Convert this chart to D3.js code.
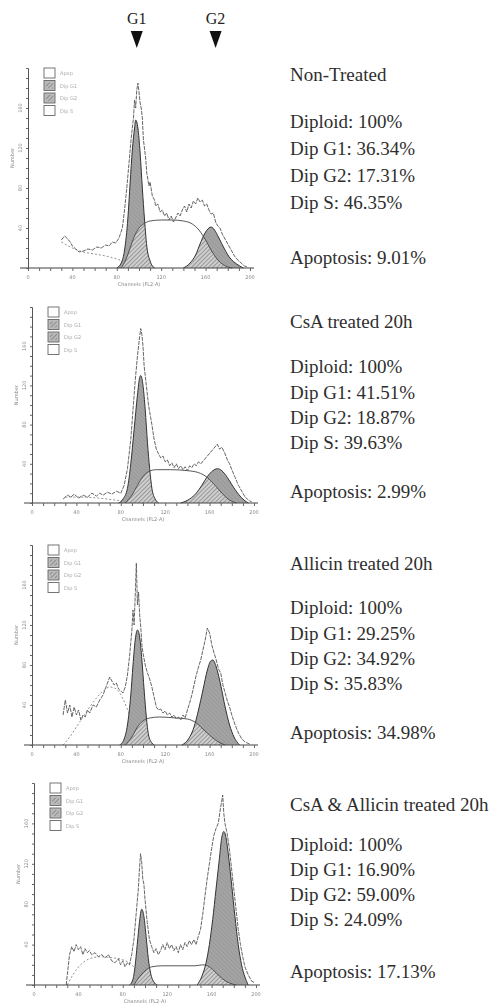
<!DOCTYPE html>
<html>
<head>
<meta charset="utf-8">
<script src="https://cdn.jsdelivr.net/npm/d3@7"></script>
<style>
  body { margin: 0; background: #fff; }
  svg { display: block; }
</style>
</head>
<body>
<svg id="fig" width="503" height="1003"></svg>
<script>
// ---- data: [channel, count] ----
const p1Hist = [[30,28],[33,32],[35,30],[38,26],[40,22],[43,19],[46,16],[50,17],[54,19],[58,18],[62,21],[66,20],[70,23],[73,22],[76,26],[79,25],[82,30],[85,40],[87,58],[89,80],[91,105],[93,130],[95,150],[96,168],[97,160],[98,178],[99,185],[100,176],[101,165],[102,160],[103,150],[104,128],[106,110],[107,95],[109,82],[110,86],[112,72],[114,68],[115,62],[117,64],[119,56],[121,58],[123,52],[125,55],[127,48],[129,52],[131,46],[133,50],[135,55],[137,52],[139,58],[141,62],[143,56],[145,64],[147,60],[149,67],[151,64],[153,70],[155,66],[157,68],[159,62],[161,64],[163,58],[165,54],[167,55],[169,46],[171,42],[173,40],[175,34],[177,30],[180,24],[183,18],[186,12],[189,8],[192,5],[195,2],[198,1]];
const p1G1 = [[80,0],[84,5],[87,18],[90,50],[92,85],[94,118],[96,140],[97,148],[99,140],[101,115],[103,80],[105,48],[107,22],[110,7],[114,0]];
const p1S = [[84,0],[88,8],[92,20],[96,32],[100,40],[104,44],[110,47],[120,48],[130,48],[140,47],[148,44],[154,38],[160,28],[166,16],[172,7],[178,2],[184,0]];
const p1G2 = [[140,0],[146,5],[151,13],[155,24],[159,34],[163,40],[165,41],[168,38],[172,30],[177,19],[182,10],[188,4],[194,0]];
const p1Deb = [[30,26],[40,20],[50,16],[60,14],[70,12],[80,9],[90,5],[100,2],[110,0]];

const p2Hist = [[28,4],[32,8],[35,6],[38,9],[42,5],[46,8],[50,6],[54,10],[58,7],[61,10],[64,8],[68,11],[72,9],[76,12],[80,10],[83,18],[86,35],[89,65],[91,95],[93,125],[95,150],[97,170],[98,178],[99,172],[100,160],[101,140],[103,120],[105,100],[106,93],[108,80],[110,65],[112,55],[114,50],[116,46],[118,48],[120,42],[122,44],[124,38],[126,41],[128,36],[130,40],[132,35],[134,38],[136,34],[138,37],[140,33],[142,38],[144,36],[146,40],[148,38],[150,42],[152,40],[155,44],[158,48],[161,52],[164,56],[167,60],[169,55],[171,57],[174,50],[176,44],[178,40],[180,34],[183,26],[186,18],[189,12],[192,6],[195,3],[198,1]];
const p2G1 = [[78,0],[82,4],[86,15],[89,40],[92,75],[95,110],[97,128],[98,130],[100,120],[102,95],[104,62],[106,35],[108,15],[111,4],[114,0]];
const p2S = [[84,0],[90,8],[95,18],[100,27],[105,32],[112,34],[125,34],[140,33],[150,31],[158,26],[165,18],[172,9],[178,3],[184,0]];
const p2G2 = [[134,0],[142,4],[148,10],[153,18],[158,27],[163,33],[167,35],[171,33],[176,26],[181,17],[186,9],[191,3],[195,0]];
const p2Deb = [[30,6],[45,6],[60,5],[75,3],[90,1],[100,0]];

const p3Hist = [[28,30],[30,45],[32,32],[34,40],[36,28],[38,38],[40,30],[42,35],[44,25],[46,30],[48,28],[50,35],[52,32],[55,40],[58,38],[61,45],[64,50],[66,56],[68,62],[70,68],[72,64],[74,60],[76,62],[78,56],[80,54],[82,52],[84,58],[86,70],[88,90],[90,115],[91,135],[92,120],[93,150],[94,182],[95,140],[96,153],[97,130],[98,118],[99,100],[100,92],[102,80],[104,72],[106,66],[108,58],[110,48],[112,38],[114,35],[116,36],[118,32],[120,34],[122,30],[124,32],[126,28],[128,30],[130,26],[132,28],[134,25],[136,30],[138,27],[140,35],[142,42],[144,50],[146,60],[148,70],[150,78],[152,85],[154,95],[156,105],[158,117],[160,112],[162,100],[164,92],[166,85],[168,76],[170,72],[172,60],[174,52],[176,44],[178,38],[180,30],[183,20],[186,12],[189,6],[192,3],[196,1]];
const p3G1 = [[79,0],[83,6],[86,20],[89,50],[91,80],[93,105],[95,115],[97,108],[99,85],[101,55],[103,28],[105,10],[108,2],[110,0]];
const p3S = [[84,0],[90,8],[95,18],[100,24],[106,27],[115,28],[130,27],[140,26],[148,22],[155,15],[162,8],[168,3],[174,0]];
const p3G2 = [[135,0],[141,6],[146,18],[150,35],[154,55],[158,75],[161,84],[163,85],[166,78],[170,60],[174,38],[178,20],[182,8],[187,0]];
const p3Deb = [[28,0],[34,8],[40,18],[46,28],[52,38],[58,47],[64,54],[70,58],[76,56],[82,46],[88,30],[94,14],[100,4],[106,0]];

const p4Hist = [[29,0],[30,10],[32,30],[34,38],[36,33],[38,40],[40,35],[42,38],[44,30],[46,36],[48,32],[50,34],[52,30],[55,32],[58,28],[61,30],[64,27],[67,30],[70,24],[73,22],[76,26],[78,20],[80,24],[82,18],[84,22],[86,20],[88,30],[90,45],[92,70],[94,95],[95,115],[96,130],[97,122],[98,105],[99,100],[100,85],[102,62],[104,45],[106,38],[108,32],[110,36],[112,30],[114,34],[116,40],[118,35],[120,42],[122,36],[124,40],[126,34],[128,38],[130,32],[132,40],[134,35],[136,42],[138,38],[140,44],[142,40],[144,45],[146,40],[148,48],[150,55],[152,70],[154,88],[156,105],[158,120],[160,135],[162,148],[164,155],[166,160],[168,175],[170,188],[171,170],[172,160],[174,150],[176,135],[178,115],[180,95],[182,75],[184,55],[186,40],[188,28],[190,18],[193,10],[196,4],[199,2]];
const p4G1 = [[86,0],[89,5],[91,18],[93,40],[95,62],[97,75],[99,68],[101,48],[103,26],[105,12],[108,3],[111,0]];
const p4S = [[90,0],[95,8],[100,14],[106,18],[115,19],[130,19],[145,19],[152,20],[158,18],[164,12],[170,6],[176,2],[182,0]];
const p4G2 = [[147,0],[151,8],[155,22],[158,40],[161,65],[164,95],[167,125],[169,145],[171,152],[173,146],[175,130],[178,100],[181,68],[184,40],[187,20],[190,8],[193,0]];
const p4Deb = [[30,0],[35,10],[42,20],[50,26],[60,28],[70,27],[80,25],[88,20],[94,12],[100,5],[106,0]];

// ---- text ----
const titles = ['Non-Treated', 'CsA treated 20h', 'Allicin treated 20h', 'CsA & Allicin treated 20h'];
const diploid = ['100%', '100%', '100%', '100%'];
const dipG1 = ['36.34%', '41.51%', '29.25%', '16.90%'];
const dipG2 = ['17.31%', '18.87%', '34.92%', '59.00%'];
const dipS = ['46.35%', '39.63%', '35.83%', '24.09%'];
const apoptosis = ['9.01%', '2.99%', '34.98%', '17.13%'];
const xTicks = [0, 40, 80, 120, 160, 200];
const yTicks = [40, 80, 120, 160];
const legendNames = ['Apop', 'Dip G1', 'Dip G2', 'Dip S'];
const peakLabels = ['G1', 'G2'];
const peakChannels = [98, 169];

// layout per panel (pixels)
const layout = [
  { left: 28, top: 68, bottom: 268, textY: [75, 122, 149, 176, 203, 258] },
  { left: 32, top: 307, bottom: 503, textY: [322, 367, 393, 418, 443, 492] },
  { left: 32, top: 545, bottom: 745, textY: [564, 608, 634, 659, 684, 733] },
  { left: 34, top: 783, bottom: 985, textY: [805, 845, 870, 895, 920, 972] }
];
const series = [
  { hist: p1Hist, g1: p1G1, s: p1S, g2: p1G2, deb: p1Deb },
  { hist: p2Hist, g1: p2G1, s: p2S, g2: p2G2, deb: p2Deb },
  { hist: p3Hist, g1: p3G1, s: p3S, g2: p3G2, deb: p3Deb },
  { hist: p4Hist, g1: p4G1, s: p4S, g2: p4G2, deb: p4Deb }
];

const svg = d3.select('#fig');
const defs = svg.append('defs');

function hatch(id, angle, color, gap) {
  defs.append('pattern')
    .attr('id', id)
    .attr('patternUnits', 'userSpaceOnUse')
    .attr('width', gap).attr('height', gap)
    .attr('patternTransform', `rotate(${angle})`)
    .append('line')
    .attr('x1', 0).attr('y1', 0).attr('x2', 0).attr('y2', gap)
    .attr('stroke', color).attr('stroke-width', 0.8);
}
hatch('hatchLight', -45, '#8a8a8a', 3);
hatch('hatchDark', 45, '#444', 3);

defs.append('filter').attr('id', 'soft')
  .append('feGaussianBlur').attr('stdDeviation', 0.35);

// G1 / G2 arrows on top
const topX = d3.scaleLinear().domain([0, 200]).range([layout[0].left, layout[0].left + 222]);
peakLabels.forEach((lab, i) => {
  const x = topX(peakChannels[i]);
  svg.append('text')
    .attr('x', x).attr('y', 24)
    .attr('text-anchor', 'middle')
    .attr('font-family', 'Liberation Serif, serif')
    .attr('font-size', 16)
    .attr('fill', '#222')
    .text(lab);
  svg.append('path')
    .attr('d', `M${x - 6},31 L${x + 6},31 L${x},48 Z`)
    .attr('fill', '#111');
});

series.forEach((d, i) => {
  const L = layout[i];
  const x = d3.scaleLinear().domain([0, 200]).range([L.left, L.left + 222]);
  const y = d3.scaleLinear().domain([0, 200]).range([L.bottom, L.top]);
  const g = svg.append('g').attr('filter', 'url(#soft)');

  const area = d3.area().x(p => x(p[0])).y0(y(0)).y1(p => y(p[1])).curve(d3.curveMonotoneX);
  const line = d3.line().x(p => x(p[0])).y(p => y(p[1])).curve(d3.curveMonotoneX);
  const jag = d3.line().x(p => x(p[0])).y(p => y(p[1]));

  // clip of the two diploid peaks, where the S fit overlaps them
  const clipId = 'peaks' + i;
  const clip = defs.append('clipPath').attr('id', clipId);
  clip.append('path').attr('d', area(d.g1));
  clip.append('path').attr('d', area(d.g2));

  // debris fit
  g.append('path').attr('d', line(d.deb))
    .attr('fill', 'none').attr('stroke', '#777')
    .attr('stroke-width', 0.8).attr('stroke-dasharray', '2,2');

  // G1 and G2 peaks: grey with a light texture
  [d.g1, d.g2].forEach(pk => {
    g.append('path').attr('d', area(pk)).attr('fill', '#a4a4a4');
    g.append('path').attr('d', area(pk)).attr('fill', 'url(#hatchLight)');
  });

  // S phase overlap with the peaks: lighter with dark hatch
  g.append('path').attr('d', area(d.s)).attr('clip-path', `url(#${clipId})`).attr('fill', '#cfcfcf');
  g.append('path').attr('d', area(d.s)).attr('clip-path', `url(#${clipId})`).attr('fill', 'url(#hatchDark)');

  [d.g1, d.g2].forEach(pk => {
    g.append('path').attr('d', line(pk))
      .attr('fill', 'none').attr('stroke', '#333').attr('stroke-width', 1);
  });
  g.append('path').attr('d', line(d.s))
    .attr('fill', 'none').attr('stroke', '#444').attr('stroke-width', 0.9);

  // raw histogram
  g.append('path').attr('d', jag(d.hist))
    .attr('fill', 'none').attr('stroke', '#555')
    .attr('stroke-width', 0.9).attr('stroke-dasharray', '4,1');

  // axes
  const xAxis = d3.axisBottom(x).tickValues(d3.range(0, 201, 10)).tickSize(3).tickFormat('');
  const ax = g.append('g').attr('transform', `translate(0,${L.bottom})`).call(xAxis);
  ax.select('.domain').attr('stroke', '#444').attr('stroke-width', 1.2)
    .attr('d', `M${L.left - 8},0H${L.left + 226}`);
  ax.selectAll('.tick line').attr('stroke', '#666');
  g.selectAll(null).data(xTicks).join('text')
    .attr('x', v => x(v)).attr('y', L.bottom + 11)
    .attr('text-anchor', 'middle')
    .attr('font-family', 'DejaVu Sans, sans-serif')
    .attr('font-size', 5).attr('fill', '#888')
    .text(v => v);
  g.append('text')
    .attr('x', x(100)).attr('y', L.bottom + 18)
    .attr('text-anchor', 'middle')
    .attr('font-family', 'DejaVu Sans, sans-serif')
    .attr('font-size', 5).attr('fill', '#888')
    .text('Channels (FL2-A)');

  const yAxis = d3.axisLeft(y).tickValues(d3.range(0, 201, 10)).tickSize(2).tickFormat('');
  const ay = g.append('g').attr('transform', `translate(${L.left},0)`).call(yAxis);
  ay.select('.domain').attr('stroke', '#555').attr('stroke-width', 1);
  ay.selectAll('.tick line').attr('stroke', '#666');
  g.selectAll(null).data(yTicks).join('text')
    .attr('transform', v => `translate(${L.left - 6},${y(v)}) rotate(-90)`)
    .attr('text-anchor', 'middle')
    .attr('font-family', 'DejaVu Sans, sans-serif')
    .attr('font-size', 5).attr('fill', '#888')
    .text(v => v);
  g.append('text')
    .attr('transform', `translate(${L.left - 14},${y(110)}) rotate(-90)`)
    .attr('text-anchor', 'middle')
    .attr('font-family', 'DejaVu Sans, sans-serif')
    .attr('font-size', 5).attr('fill', '#888')
    .text('Number');

  // legend boxes
  const lx = L.left + 16, ly = L.top;
  legendNames.forEach((nm, k) => {
    g.append('rect')
      .attr('x', lx).attr('y', ly + k * 12.5)
      .attr('width', 11).attr('height', 10)
      .attr('fill', k === 1 || k === 2 ? '#bbb' : '#fff')
      .attr('stroke', '#666').attr('stroke-width', 0.9);
    if (k === 1 || k === 2) {
      g.append('rect')
        .attr('x', lx + 2).attr('y', ly + k * 12.5 + 2)
        .attr('width', 7).attr('height', 6)
        .attr('fill', 'url(#hatchDark)');
    }
    g.append('text')
      .attr('x', lx + 16).attr('y', ly + k * 12.5 + 7)
      .attr('font-family', 'DejaVu Sans, sans-serif')
      .attr('font-size', 5).attr('fill', '#aaa')
      .text(nm);
  });

  // stats text on the right
  const lines = [
    titles[i],
    'Diploid: ' + diploid[i],
    'Dip G1: ' + dipG1[i],
    'Dip G2: ' + dipG2[i],
    'Dip S: ' + dipS[i],
    'Apoptosis: ' + apoptosis[i]
  ];
  lines.forEach((t, k) => {
    svg.append('text')
      .attr('x', 290).attr('y', L.textY[k] + 6)
      .attr('font-family', 'Liberation Serif, serif')
      .attr('font-size', 19)
      .attr('fill', '#2e2e2e')
      .text(t);
  });
});
</script>
</body>
</html>
